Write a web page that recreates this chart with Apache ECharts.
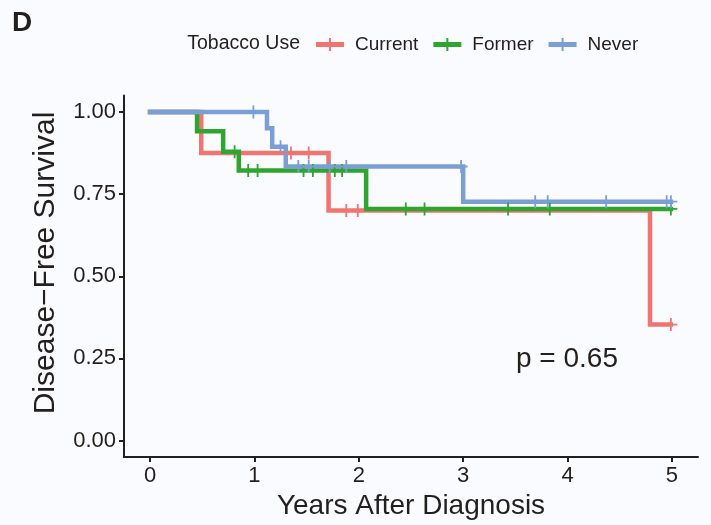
<!DOCTYPE html>
<html>
<head>
<meta charset="utf-8">
<script src="https://cdn.jsdelivr.net/npm/echarts@6/dist/echarts.min.js"></script>
<style>
html,body{margin:0;padding:0;background:#fafbfe;}
#main{width:711px;height:525px;}
</style>
</head>
<body>
<div id="main"></div>
<script>
// ---- Data ----
const groupNames = ['Current', 'Former', 'Never'];
const xTicks = [0, 1, 2, 3, 4, 5];
const yTicks = [0, 0.25, 0.5, 0.75, 1.0];

const currentTimes = [0, 0.49, 1.71, 4.79, 4.99];
const currentSurv  = [1.0, 0.875, 0.70, 0.353, 0.353];
const currentCensor = [1.35, 1.52, 1.88, 1.99, 4.99];

const formerTimes = [0, 0.45, 0.70, 0.85, 2.07, 4.99];
const formerSurv  = [1.0, 0.941, 0.879, 0.822, 0.705, 0.705];
const formerCensor = [0.81, 0.94, 1.03, 1.47, 1.56, 1.77, 1.84, 2.45, 2.63, 3.43, 3.83, 4.99];

const neverTimes = [0, 1.12, 1.17, 1.30, 3.00, 4.99];
const neverSurv  = [1.0, 0.95, 0.894, 0.834, 0.727, 0.727];
const neverCensor = [0.99, 1.25, 1.42, 1.52, 1.72, 1.88, 2.98, 3.69, 3.81, 4.37, 4.95, 4.99];

const pValueText = 'p = 0.65';
// ---------------------------------------

const colors = ['#f07470', '#2fa52f', '#7b9ed5'];
const FONT = '"Liberation Sans", Arial, sans-serif';
const TXT = '#231f1c';

function pairs(t, s) { return t.map((v, i) => [v, s[i]]); }
function survAt(t, s, x) {
  let v = s[0];
  for (let i = 0; i < t.length; i++) { if (t[i] <= x) v = s[i]; }
  return v;
}
const groups = [
  {t: currentTimes, s: currentSurv, c: currentCensor},
  {t: formerTimes, s: formerSurv, c: formerCensor},
  {t: neverTimes, s: neverSurv, c: neverCensor}
];

const plusPath = 'path://M5.6,0H7.4V5.6H13V7.4H7.4V13H5.6V7.4H0V5.6H5.6Z';
const legendIcon = 'path://M0,4H28V9H0Z M13,0H15V13H13Z';

const series = [];
groups.forEach((g, i) => {
  series.push({
    name: groupNames[i],
    type: 'line',
    step: 'end',
    data: pairs(g.t, g.s),
    showSymbol: false,
    symbol: 'none',
    lineStyle: {width: 4.5, color: colors[i], cap: 'square', join: 'miter'},
    itemStyle: {color: colors[i]},
    z: 2 + i,
    animation: false
  });
});
groups.forEach((g, i) => {
  series.push({
    name: groupNames[i] + ' censor',
    type: 'scatter',
    data: g.c.map(x => [x, survAt(g.t, g.s, x)]),
    symbol: plusPath,
    symbolSize: 13,
    itemStyle: {color: colors[i], opacity: 1},
    z: 10,
    animation: false
  });
});

const chart = echarts.init(document.getElementById('main'), null, {renderer: 'canvas'});
chart.setOption({
  backgroundColor: '#fafbfe',
  animation: false,
  grid: {left: 124, right: 13, top: 95.5, bottom: 67.5, containLabel: false},
  xAxis: {
    type: 'value', min: -0.25, max: 5.25,
    name: 'Years After Diagnosis', nameLocation: 'middle', nameGap: 35,
    nameTextStyle: {fontFamily: FONT, fontSize: 28, color: TXT},
    axisLine: {show: true, onZero: false, lineStyle: {color: TXT, width: 2}},
    axisTick: {show: true, length: 5, lineStyle: {color: TXT, width: 2}, customValues: xTicks},
    axisLabel: {show: true, customValues: xTicks, fontFamily: FONT, fontSize: 22, color: TXT, margin: 8,
      formatter: v => String(v)},
    splitLine: {show: false}
  },
  yAxis: {
    type: 'value', min: -0.05, max: 1.05,
    axisLine: {show: true, onZero: false, lineStyle: {color: TXT, width: 2}},
    axisTick: {show: true, length: 5, lineStyle: {color: TXT, width: 2}, customValues: yTicks},
    axisLabel: {show: true, customValues: yTicks, fontFamily: FONT, fontSize: 22, color: TXT, margin: 8,
      formatter: v => v.toFixed(2)},
    splitLine: {show: false}
  },
  legend: {
    data: groupNames.map((n, i) => ({name: n, icon: legendIcon, itemStyle: {color: colors[i]}})),
    left: 311, top: 30,
    itemWidth: 28, itemHeight: 13, itemGap: 15,
    textStyle: {fontFamily: FONT, fontSize: 19, color: TXT, padding: [0, 0, 0, 6]},
    selectedMode: false
  },
  graphic: [
    {type: 'text', left: 12, top: 9, style: {text: 'D', font: 'bold 28px ' + FONT, fill: TXT}},
    {type: 'text', right: 711 - 300, top: 34, style: {text: 'Tobacco Use', font: '19.5px ' + FONT, fill: TXT}},
    {type: 'text', x: 46, y: 263, rotation: Math.PI / 2,
      style: {text: 'Disease\u2212Free Survival', font: '30px ' + FONT, fill: TXT, align: 'center', verticalAlign: 'middle'}},
    {type: 'text', left: 516, top: 345, style: {text: pValueText, font: '28px ' + FONT, fill: TXT}}
  ],
  series: series
});
</script>
</body>
</html>
